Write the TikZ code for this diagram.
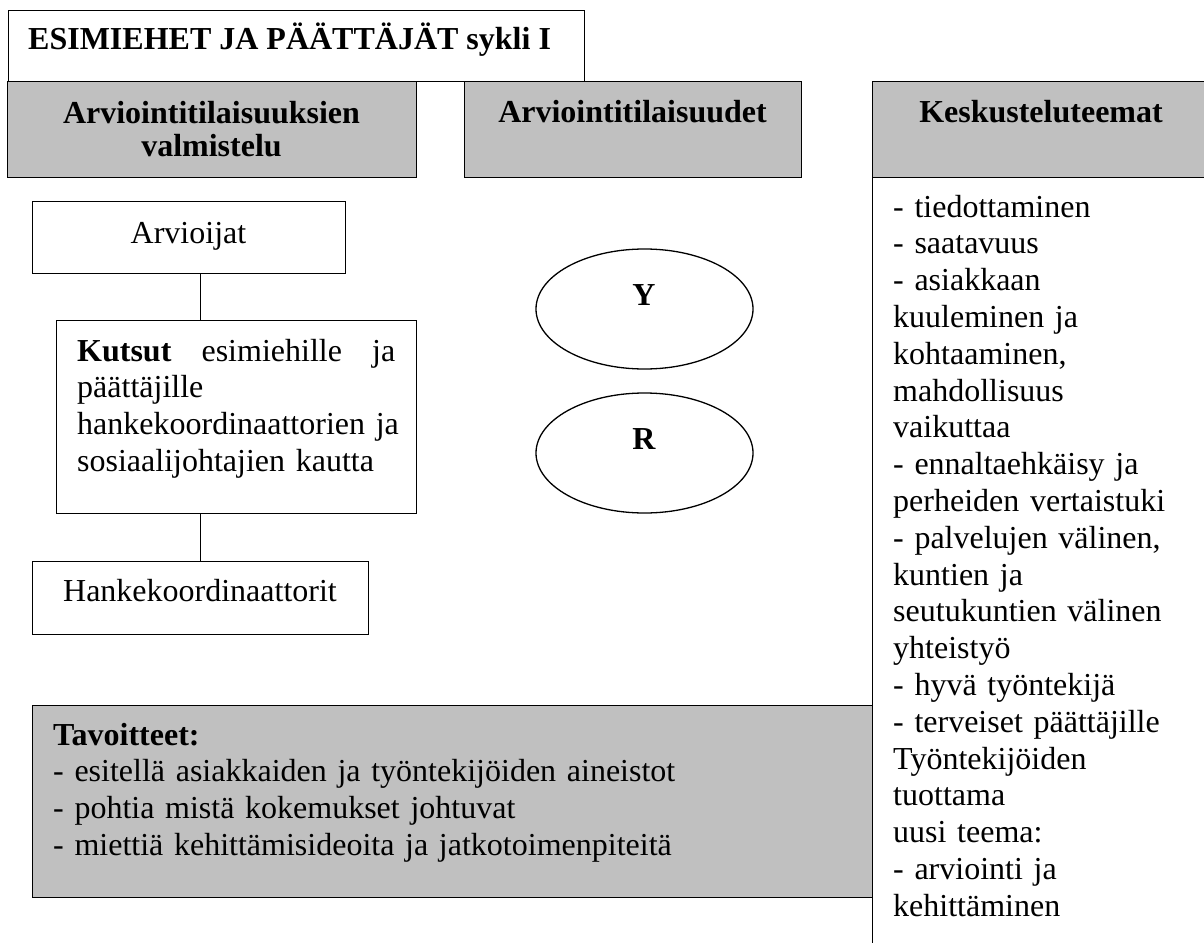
\documentclass[tikz,border=0pt]{standalone}
\usepackage{fontspec}
\setmainfont{Liberation Serif}
\usepackage{xcolor}
\usetikzlibrary{positioning, calc, shapes.geometric}
\definecolor{boxgrey}{RGB}{192,192,192}
\newcommand{\runko}{\fontsize{32}{36.8}\selectfont}

\begin{document}
\begin{tikzpicture}[x=1pt, y=-1pt,
    laatikko/.style={draw, line width=1.3pt, inner sep=0pt, anchor=north west},
    harmaa/.style={laatikko, fill=boxgrey},
    teksti/.style={inner sep=0pt, font=\runko},
    otsake/.style={teksti, font=\runko\bfseries, align=center},
    soikio/.style={draw, line width=1.3pt, ellipse, inner sep=0pt, minimum width=217pt, minimum height=120pt}]
    \path[use as bounding box, clip] (0,0) rectangle (1204,942);

    \node[laatikko, minimum width=576pt, minimum height=71pt] (otsikko) at (8,10) {};
    \node[teksti, font=\runko\bfseries, anchor=base west] (otsikkoteksti) at (28,50) {ESIMIEHET JA PÄÄTTÄJÄT sykli I};

    \node[harmaa, minimum width=409pt, minimum height=96pt] (valmistelu) at (7,81) {};
    \node[otsake, text width=400pt, anchor=base] (valmisteluteksti) at (211.5,123) {Arviointitilaisuuksien\\[-3pt]valmistelu};
    \node[harmaa, minimum width=337pt, minimum height=96pt] (tilaisuudet) at (464,81) {};
    \node[otsake, anchor=base] (tilaisuudetteksti) at (632.5,122) {Arviointitilaisuudet};

    \node[laatikko, minimum width=340pt, minimum height=820pt] (teemalista) at (872,177) {};
    \node[harmaa, minimum width=340pt, minimum height=96pt] (teemat) at (872,81) {};
    \node[otsake, anchor=base] (teematteksti) at (1041,122) {Keskusteluteemat};
    \node[teksti, text width=310pt, align=left, anchor=base west] (teemateksti) at (893,217) {- tiedottaminen\\- saatavuus\\- asiakkaan\\kuuleminen ja\\kohtaaminen,\\mahdollisuus\\vaikuttaa\\- ennaltaehkäisy ja\\perheiden vertaistuki\\- palvelujen välinen,\\kuntien ja\\seutukuntien välinen\\yhteistyö\\- hyvä työntekijä\\- terveiset päättäjille\\Työntekijöiden\\tuottama\\uusi teema:\\- arviointi ja\\kehittäminen};

    \node[laatikko, minimum width=313pt, minimum height=72pt] (arvioijat) at (32,201) {};
    \node[teksti, anchor=base] (arvioijatteksti) at (188.5,243) {Arvioijat};
    \node[laatikko, minimum width=360pt, minimum height=193pt] (kutsut) at (56,320) {};
    \node[teksti, text width=330pt, align=left, anchor=base west] (kutsutteksti) at (77,361) {\hbox to 318pt{\textbf{Kutsut}\hfill esimiehille\hfill ja}\\päättäjille\\hankekoordinaattorien ja\\sosiaalijohtajien kautta};
    \node[laatikko, minimum width=336pt, minimum height=73pt] (hanke) at (32,561) {};
    \node[teksti, anchor=base] (hanketeksti) at (200,601) {Hankekoordinaattorit};

    \draw[line width=1.3pt] (arvioijat.south -| hanke.north) -- (kutsut.north -| hanke.north);
    \draw[line width=1.3pt] (kutsut.south -| hanke.north) -- (hanke.north);

    \node[soikio] (y) at (644.5,309) {};
    \node[otsake, anchor=base] (yteksti) at (644,305) {Y};
    \node[soikio] (r) at (644.5,453) {};
    \node[otsake, anchor=base] (rteksti) at (644,449) {R};

    \node[harmaa, minimum width=840pt, minimum height=192pt] (tavoitteet) at (32,705) {};
    \node[teksti, text width=800pt, align=left, anchor=base west] (tavoitteetteksti) at (53,745) {\textbf{Tavoitteet:}\\- esitellä asiakkaiden ja työntekijöiden aineistot\\- pohtia mistä kokemukset johtuvat\\- miettiä kehittämisideoita ja jatkotoimenpiteitä};
\end{tikzpicture}
\end{document}
